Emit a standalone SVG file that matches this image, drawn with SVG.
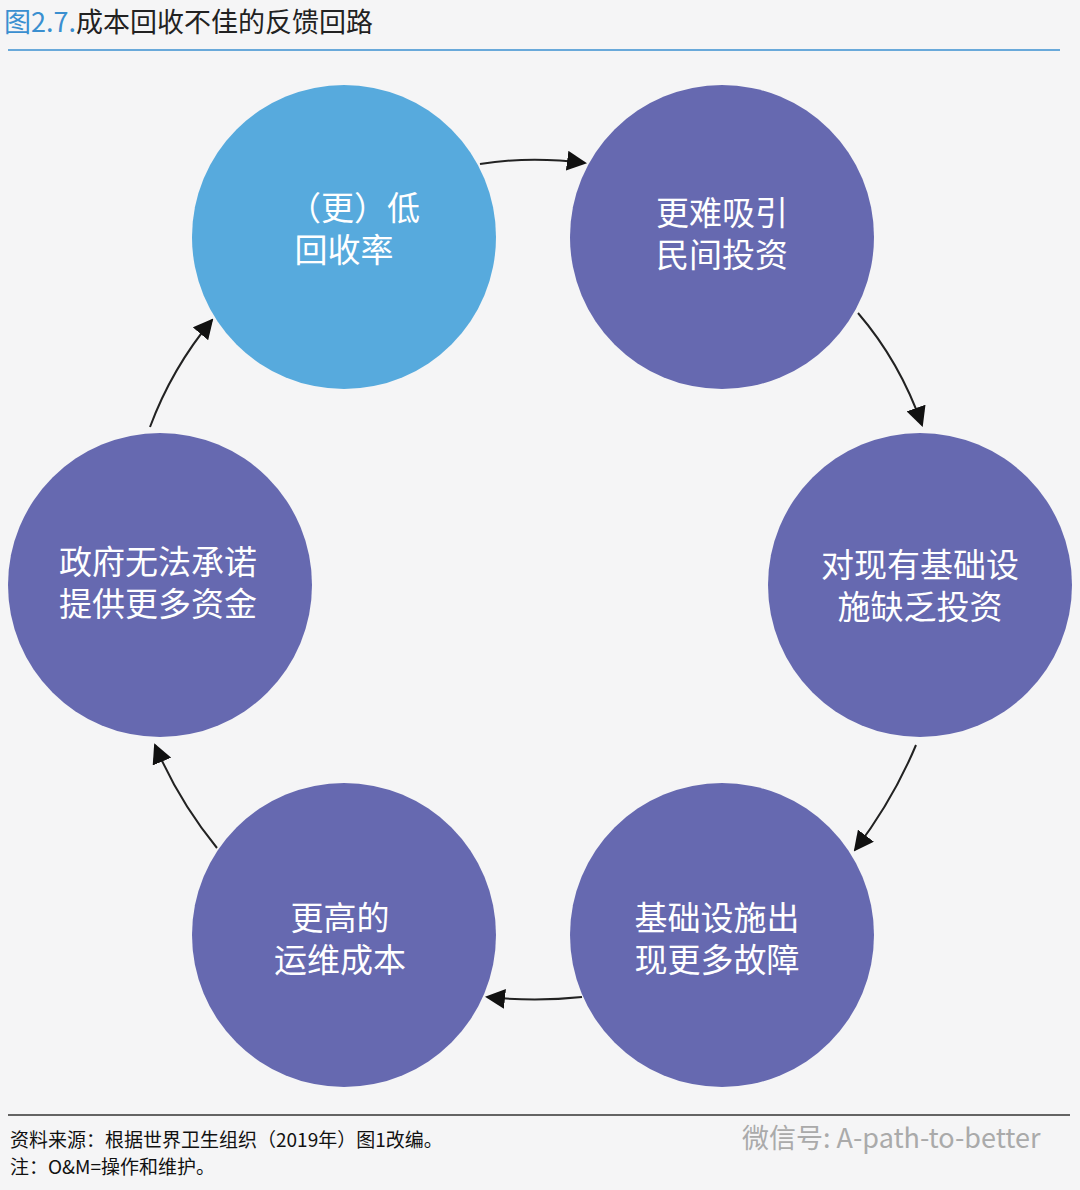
<svg xmlns="http://www.w3.org/2000/svg" width="1080" height="1190" viewBox="0 0 1080 1190">
<style>
.t{font-family:"Noto Sans CJK SC","Liberation Sans",sans-serif}
.c{fill:#6669b0}
.lbl{fill:#fff;font-size:33px;text-anchor:middle;font-family:"Noto Sans CJK SC",sans-serif}
.arr{fill:none;stroke:#222;stroke-width:2;marker-end:url(#ah)}
.s{font-size:19px;fill:#111}
</style>
<defs><marker id="ah" viewBox="0 0 10 10" refX="9" refY="5" markerWidth="10" markerHeight="10" markerUnits="userSpaceOnUse" orient="auto"><path d="M0,0L10,5L0,10z" fill="#111"/></marker>
<marker id="ah2" viewBox="0 0 10 10" refX="9" refY="5" markerWidth="20" markerHeight="20" markerUnits="userSpaceOnUse" orient="auto"><path d="M0,0L10,5L0,10z" fill="#111"/></marker></defs>
<rect width="1080" height="1190" fill="#f5f5f6"/>
<text x="4" y="32" class="t" font-size="27"><tspan fill="#3a8fd0">图2.7.</tspan><tspan fill="#222">成本回收不佳的反馈回路</tspan></text>
<line x1="8" y1="50" x2="1060" y2="50" stroke="#3a8fd0" stroke-width="1.5"/>
<g id="n1"><circle cx="344" cy="237" r="152" fill="#57aadd"/><text class="lbl" x="354" y="220">（更）低</text><text class="lbl" x="344" y="262">回收率</text></g>
<g id="n2"><circle class="c" cx="722" cy="237" r="152"/><text class="lbl" x="722" y="225">更难吸引</text><text class="lbl" x="722" y="267">民间投资</text></g>
<g id="n3"><circle class="c" cx="920" cy="585" r="152"/><text class="lbl" x="920" y="577">对现有基础设</text><text class="lbl" x="920" y="619">施缺乏投资</text></g>
<g id="n4"><circle class="c" cx="722" cy="935" r="152"/><text class="lbl" x="717" y="930">基础设施出</text><text class="lbl" x="717" y="972">现更多故障</text></g>
<g id="n5"><circle class="c" cx="344" cy="935" r="152"/><text class="lbl" x="340" y="930">更高的</text><text class="lbl" x="340" y="972">运维成本</text></g>
<g id="n6"><circle class="c" cx="160" cy="585" r="152"/><text class="lbl" x="158" y="574">政府无法承诺</text><text class="lbl" x="158" y="616">提供更多资金</text></g>
<g id="connectors" stroke="#222" stroke-width="2" fill="none">
<path d="M480,164 Q530,156 585,163" marker-end="url(#ah2)"/>
<path d="M858,313 Q900,362 922,425" marker-end="url(#ah2)"/>
<path d="M916,745 Q893,800 855,850" marker-end="url(#ah2)"/>
<path d="M582,997 Q535,1002 487,997" marker-end="url(#ah2)"/>
<path d="M217,848 Q178,800 155,745" marker-end="url(#ah2)"/>
<path d="M150,427 Q172,368 212,320" marker-end="url(#ah2)"/>
</g>
<line x1="8" y1="1115" x2="1070" y2="1115" stroke="#333" stroke-width="1.5"/>
<text class="t s" x="10" y="1147">资料来源：根据世界卫生组织（2019年）图1改编。</text>
<text class="t s" x="10" y="1174">注：O&amp;M=操作和维护。</text>
<text class="t" x="742" y="1148" font-size="27" fill="#aaa">微信号: A-path-to-better</text>
</svg>
